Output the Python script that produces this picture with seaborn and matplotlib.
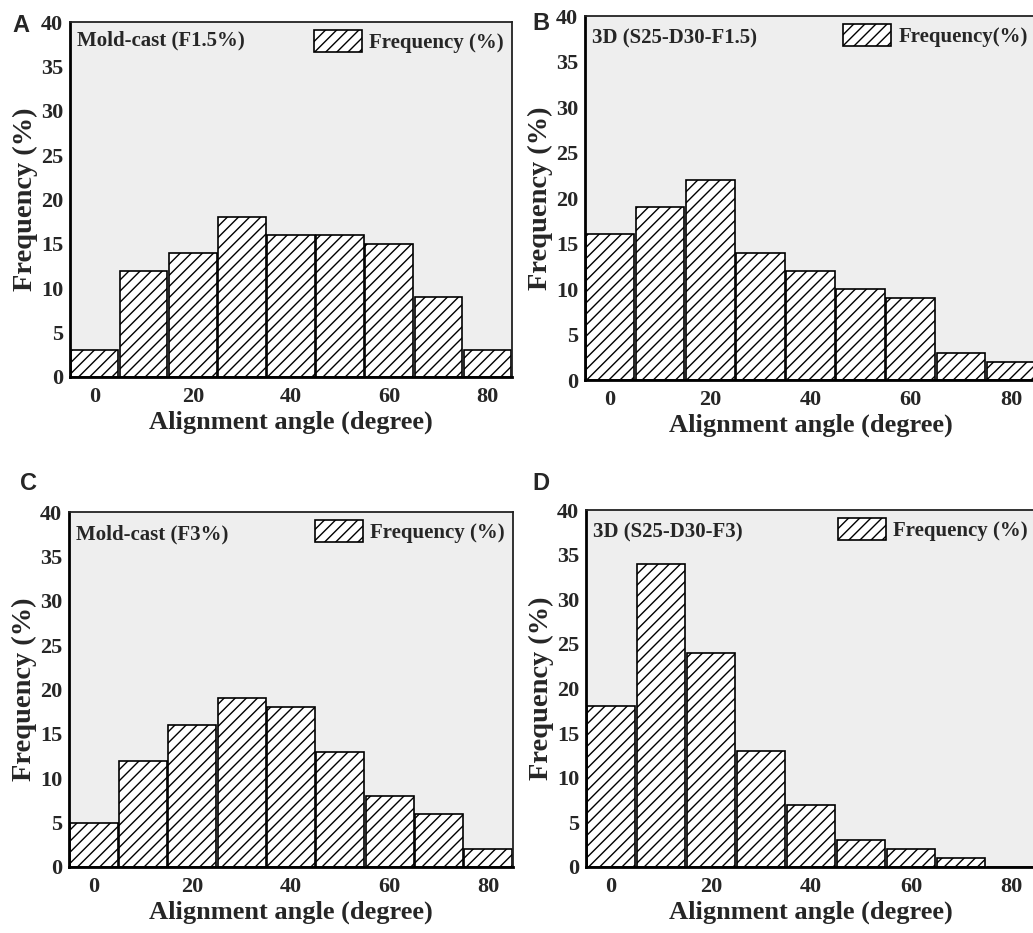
import matplotlib
matplotlib.use("Agg")
import matplotlib.pyplot as plt
from matplotlib.patches import Patch
import numpy as np
import pandas as pd
import seaborn as sns

# Alignment-angle bins (degree) and frequencies (%)
angles = [0, 10, 20, 30, 40, 50, 60, 70, 80]
freq_mold_f15 = [3, 12, 14, 18, 16, 16, 15, 9, 3]
freq_3d_f15 = [16, 19, 22, 14, 12, 10, 9, 3, 2]
freq_mold_f3 = [5, 12, 16, 19, 18, 13, 8, 6, 2]
freq_3d_f3 = [18, 34, 24, 13, 7, 3, 2, 1, 0]

panel_letters = ["A", "B", "C", "D"]
panel_titles = ["Mold-cast (F1.5%)", "3D (S25-D30-F1.5)", "Mold-cast (F3%)", "3D (S25-D30-F3)"]
legend_labels = ["Frequency (%)", "Frequency(%)", "Frequency (%)", "Frequency (%)"]
x_ticks = [0, 20, 40, 60, 80]
y_ticks = [0, 5, 10, 15, 20, 25, 30, 35, 40]

sns.set_theme(style="white")
plt.rcParams["font.family"] = ["Liberation Serif", "DejaVu Serif"]
plt.rcParams["font.weight"] = "bold"
plt.rcParams["hatch.linewidth"] = 1.0
plt.rcParams["hatch.color"] = "black"

W, H = 1033, 933
fig = plt.figure(figsize=(W / 100, H / 100), dpi=100)

# axes boxes in pixels: left, top, right, bottom
boxes = [(70, 22, 512, 377), (585, 16, 1036, 380), (69, 512, 513, 867), (586, 510, 1036, 867)]
letter_pos = [(12, 14), (532, 12), (20, 472), (532, 472)]
title_y = [0.975, 0.965, 0.965, 0.965]
series = [freq_mold_f15, freq_3d_f15, freq_mold_f3, freq_3d_f3]

for i, (l, t, r, b) in enumerate(boxes):
    ax = fig.add_axes([l / W, 1 - b / H, (r - l) / W, (b - t) / H])
    ax.set_facecolor("#eeeeee")
    df = pd.DataFrame({"angle": angles, "freq": series[i]})
    sns.barplot(data=df, x="angle", y="freq", native_scale=True, width=0.97,
                color="white", edgecolor="black", linewidth=1.2, hatch="///",
                saturation=1, ax=ax)
    ax.set_xlim(-5, 85)
    ax.set_ylim(0, 40)
    ax.set_xticks(x_ticks)
    ax.set_yticks(y_ticks)
    ax.tick_params(axis="y", length=0, labelsize=16, pad=5)
    ax.tick_params(axis="x", length=0, labelsize=16, pad=7)
    for lab in ax.get_xticklabels() + ax.get_yticklabels():
        lab.set_fontweight("bold")
    ax.set_xlabel("Alignment angle (degree)", fontsize=19, fontweight="bold", labelpad=3)
    ax.set_ylabel("Frequency (%)", fontsize=20.5, fontweight="bold", labelpad=2)
    for side in ["left", "bottom"]:
        ax.spines[side].set_linewidth(2.0)
        ax.spines[side].set_color("black")
    for side in ["top", "right"]:
        ax.spines[side].set_linewidth(1.3)
        ax.spines[side].set_color("#222222")
    ax.text(0.015, title_y[i], panel_titles[i], transform=ax.transAxes, ha="left", va="top",
            fontsize=15, fontweight="bold")
    handle = Patch(facecolor="white", edgecolor="black", hatch="///", linewidth=1.2)
    ax.legend([handle], [legend_labels[i]], loc="upper right", frameon=False,
              prop={"size": 15, "weight": "bold"}, handlelength=2.3, handleheight=1.2,
              handletextpad=0.35, borderaxespad=0.1, borderpad=0.3)
    fig.text(letter_pos[i][0] / W, 1 - letter_pos[i][1] / H, panel_letters[i],
             ha="left", va="top", fontsize=17, fontweight="bold", family="Liberation Sans")

fig.savefig("out.png", dpi=100)
